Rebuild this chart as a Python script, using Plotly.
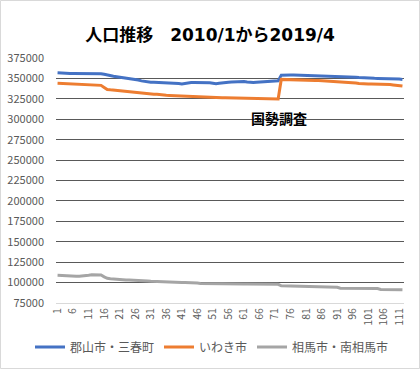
import plotly.graph_objects as go

# month index 1..112 (2010/1 .. 2019/4)
months = list(range(1, 113))

koriyama = [
    357000, 356600, 356300, 356200, 356100, 356000, 356000, 356000, 356000, 356000,
    356000, 356000, 356000, 356000, 355800, 355000, 354000, 353200, 352600, 352000,
    351500, 350800, 350000, 349400, 349000, 348600, 348000, 347000, 346200, 345800,
    345400, 345300, 345200, 345200, 345100, 345000, 345000, 344900, 344500, 343800,
    343300, 344000, 344800, 345000, 345000, 345100, 345100, 345000, 345000, 344800,
    344200, 343600, 344200, 344800, 345000, 345300, 345600, 345900, 346200, 346500,
    346200, 345500, 344900, 345000, 345300, 345600, 345900, 346100, 346300, 346400,
    346500, 347000, 354000, 354300, 354200, 354200, 354100, 354000, 354000, 353900,
    353800, 353700, 353600, 353400, 353000, 352800, 352700, 352700, 352700, 352600,
    352600, 352500, 352500, 352400, 352300, 352000, 351500, 351200, 350800, 350500,
    350300, 350200, 350100, 350000, 350000, 350000, 349900, 349800, 349700, 349600,
    349200, 348800,
]

iwaki = [
    344000, 343800, 343500, 343300, 343200, 343000, 342900, 342800, 342600, 342400,
    342000, 341700, 341600, 341600, 341500, 339000, 336500, 336000, 335600, 335200,
    334900, 334600, 334200, 333800, 333400, 332800, 332200, 331500, 331000, 330900,
    330800, 330700, 330600, 330500, 330000, 329400, 329200, 329000, 328600, 328400,
    328300, 328300, 328200, 328200, 328100, 328000, 327800, 327600, 327300, 327000,
    326800, 326600, 326500, 326400, 326300, 326200, 326100, 326000, 325900, 325800,
    325600, 325300, 325000, 324900, 324900, 324800, 324800, 324800, 324700, 324700,
    324700, 324700, 348800, 348600, 348400, 348200, 348000, 347900, 347800, 347800,
    347700, 347700, 347600, 347500, 347400, 347200, 346800, 346300, 346000, 345800,
    345600, 345400, 345200, 345000, 344900, 344800, 344300, 343800, 343300, 343200,
    343200, 343100, 343100, 343000, 343000, 342900, 342800, 342500, 342000, 341500,
    341000, 340600,
]

soma = [
    109100, 108800, 108300, 108000, 107900, 107900, 107900, 107900, 108000, 108300,
    109000, 109500, 109600, 109500, 109200, 107000, 105300, 104800, 104300, 103800,
    103600, 103400, 103200, 103100, 103000, 102900, 102700, 102400, 102100, 101800,
    101500, 101300, 101000, 100700, 100400, 100300, 100300, 100200, 100200, 100200,
    100100, 100100, 100100, 100000, 100000, 99400, 98900, 98800, 98800, 98800,
    98700, 98700, 98700, 98600, 98600, 98600, 98500, 98500, 98500, 98400,
    98400, 98400, 98300, 98300, 98200, 98200, 98100, 98100, 98000, 98000,
    98000, 97900, 96000, 95900, 95800, 95800, 95700, 95700, 95600, 95600,
    95500, 95500, 95400, 95300, 94900, 94500, 94500, 94400, 94400, 94300,
    94300, 93100, 93000, 93000, 93000, 92900, 92900, 92900, 92800, 92800,
    92800, 92800, 92700, 92700, 91500, 91400, 91400, 91300, 91300, 91300,
    91200, 91200,
]

series_names = ["郡山市・三春町", "いわき市", "相馬市・南相馬市"]
series_colors = ["#4472C4", "#ED7D31", "#A5A5A5"]

x_tick_vals = [1, 6, 11, 16, 21, 26, 31, 36, 41, 46, 51, 56, 61, 66, 71, 76, 81, 86,
               91, 96, 101, 106, 111]
y_tick_vals = [75000, 100000, 125000, 150000, 175000, 200000, 225000, 250000,
               275000, 300000, 325000, 350000, 375000]

title_text = "人口推移　2010/1から2019/4"
note_text = "国勢調査"
note_x = 72.3
note_y = 302000

JP = "Noto Sans CJK JP"
W, H = 420, 369
L, R, T, B = 56, 16, 58, 66
pw, ph = W - L - R, H - T - B

# legend entry left edges (pixels)
legend_left_px = [30, 159, 252]
legend_names = ["legend", "legend2", "legend3"]

fig = go.Figure()
for name, vals, col, lg in zip(series_names, [koriyama, iwaki, soma], series_colors, legend_names):
    fig.add_trace(go.Scatter(x=months, y=vals, mode="lines", name=name, legend=lg,
                             line=dict(color=col, width=3)))

legend_common = dict(orientation="h", xref="container", yref="container",
                     xanchor="left", y=1 - 347 / H, yanchor="middle",
                     font=dict(family=JP, size=12, color="#595959"),
                     itemwidth=30, bgcolor="rgba(0,0,0,0)", borderwidth=0)
legends = {}
for lg, px in zip(legend_names, legend_left_px):
    legends[lg] = dict(legend_common, x=px / W)

fig.update_layout(
    width=W, height=H,
    margin=dict(l=L, r=R, t=T, b=B, pad=0, autoexpand=False),
    paper_bgcolor="white", plot_bgcolor="white",
    title=dict(text="<b>" + title_text + "</b>", x=0.5, xanchor="center",
               y=1 - 35 / H, yanchor="middle", xref="container", yref="container",
               font=dict(family="DejaVu Sans, " + JP, size=17, color="#000000")),
    font=dict(family=JP, color="#595959"),
    showlegend=True,
    xaxis=dict(range=[0.5, 112.5], tickmode="array", tickvals=x_tick_vals,
               ticktext=[str(v) for v in x_tick_vals], tickangle=-90,
               showgrid=False, zeroline=False, showline=True, automargin=False,
               linecolor="#D9D9D9", linewidth=1, ticks="",
               tickfont=dict(family=JP, size=10.5, color="#595959")),
    yaxis=dict(range=[75000, 375000], tickmode="array", tickvals=y_tick_vals,
               ticktext=[str(v) for v in y_tick_vals], automargin=False,
               showgrid=True, gridcolor="#595959", gridwidth=1, zeroline=False,
               showline=False, ticks="", ticklabelstandoff=11,
               tickfont=dict(family=JP, size=11, color="#595959")),
    annotations=[dict(x=note_x, y=note_y, xref="x", yref="y", text="<b>" + note_text + "</b>",
                      showarrow=False, font=dict(family=JP, size=14, color="#000000"))],
    shapes=[dict(type="rect", xref="paper", yref="paper",
                 x0=(0.5 - L) / pw, x1=(W - 0.5 - L) / pw,
                 y0=(H - B - (H - 0.5)) / ph, y1=(H - B - 0.5) / ph,
                 line=dict(color="#D9D9D9", width=1), layer="below")],
    **legends,
)

fig.write_html("out.html", config={"displayModeBar": False},
               post_script="document.body.style.margin='0';document.body.style.padding='0';")
